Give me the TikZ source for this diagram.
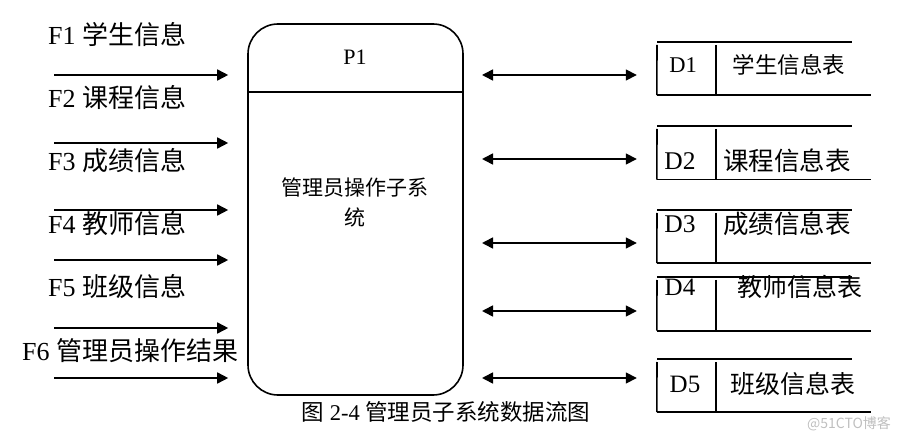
\documentclass[tikz,border=0pt]{standalone}
\usepackage{fontspec}
\setmainfont{Liberation Serif}
\newfontfamily\cjk{Noto Sans CJK SC}
\usetikzlibrary{arrows.meta}
\begin{document}
\begin{tikzpicture}[x=1pt,y=-1pt,
  flow/.style={line width=1.6pt,-{Triangle[length=11pt,width=11pt]}},
  biflow/.style={line width=1.6pt,{Triangle[length=11pt,width=11pt]}-{Triangle[length=11pt,width=11pt]}},
  lbl/.style={font=\fontsize{26}{30}\selectfont,inner sep=0pt,anchor=west},
  storetxt/.style={inner sep=0pt},
  storeline/.style={line width=1.6pt},
  store/.style={minimum width=214pt,minimum height=53pt,inner sep=0pt}]
\useasboundingbox (0,0) rectangle (901,443);

% process
\node[draw,line width=1.6pt,rounded corners=30pt,minimum width=215pt,minimum height=371pt,inner sep=0pt] (P) at (355.5,209.5) {};
\coordinate (dl) at (248,92);
\draw[line width=1.6pt] (dl) -- (dl -| P.east);
\node[font=\fontsize{22}{26}\selectfont,inner sep=0pt] (p1) at (355,57) {P1};
\node[font=\fontsize{21}{30}\selectfont\cjk,align=center,inner sep=0pt] (pt) at (355,202) {管理员操作子系\\统};

% left flows
\node[lbl] (f1) at (48,35) {F1 {\cjk 学生信息}};
\node[lbl] (f2) at (48,98) {F2 {\cjk 课程信息}};
\node[lbl] (f3) at (48,161) {F3 {\cjk 成绩信息}};
\node[lbl] (f4) at (48,224) {F4 {\cjk 教师信息}};
\node[lbl] (f5) at (48,287) {F5 {\cjk 班级信息}};
\node[lbl] (f6) at (22,351) {F6 {\cjk 管理员操作结果}};
\foreach \y/\n in {75/1,143/2,210/3,260/4,328/5,378/6}{
  \coordinate (s\n) at (54,\y);
  \draw[flow,shorten >=19pt] (s\n) -- (s\n -| P.west);
}

% stores
\foreach \n/\t/\b/\ty/\dx/\lx/\fs/\lab in {
  1/42/95/65/683/789/22.5/学生信息表,
  2/126/180/161/680/787/25.5/课程信息表,
  3/210/263/224/680/787/25.5/成绩信息表,
  4/277/331/287/680/800/25/教师信息表,
  5/359/412/384/685/793/25/班级信息表}{
  \node[store] (D\n) at (764,{(\t+\b)/2}) {};
  \draw[storeline] (657,\t) -- (852,\t);
  \draw[storeline] (D\n.south west) -- (D\n.south east);
  \draw[storeline] (657,\t+3) -- (D\n.south west);
  \draw[storeline] (716,\t+3) -- (716,\b);
  \node[storetxt,font=\fontsize{\fs}{30}\selectfont] (d\n) at (\dx,\ty) {D\n};
  \node[storetxt,font=\fontsize{\fs}{30}\selectfont\cjk] (l\n) at (\lx,\ty) {\lab};
}
\foreach \y/\n in {75/1,159/2,243/3,311/4,378/5}{
  \coordinate (r\n) at (463,\y);
  \draw[biflow,shorten <=19pt,shorten >=20pt] (r\n) -- (r\n -| D\n.west);
}

% caption
\node[font=\fontsize{22.5}{26}\selectfont,inner sep=0pt] (cap) at (446,412) {{\cjk 图} 2-4 {\cjk 管理员子系统数据流图}};
\node[font=\fontsize{14}{16}\selectfont\cjk,text=black!25,inner sep=0pt] (wm) at (849,424) {@51CTO博客};
\end{tikzpicture}
\end{document}
